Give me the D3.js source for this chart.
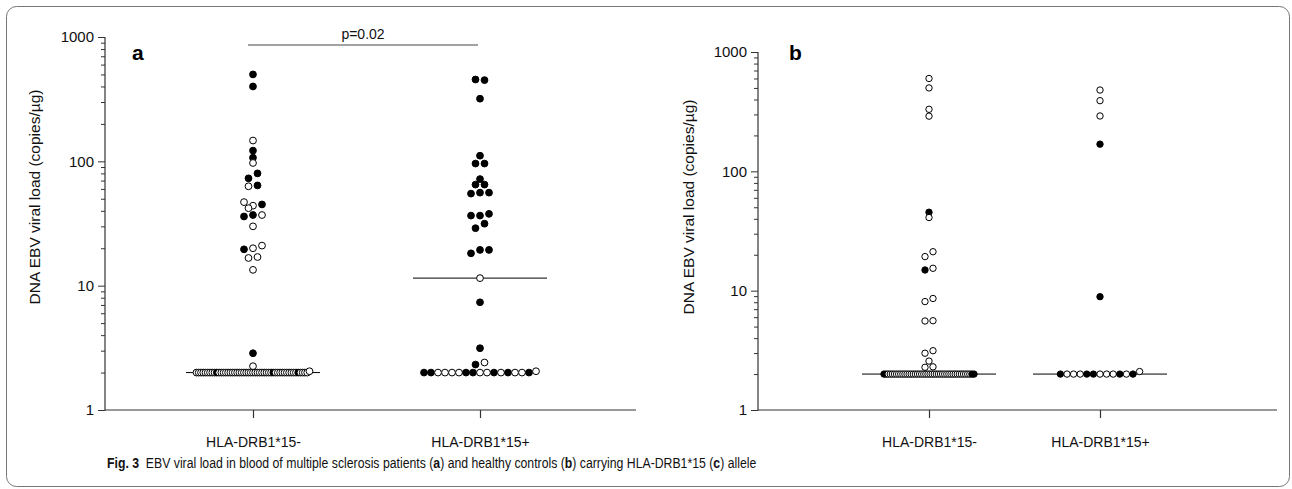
<!DOCTYPE html>
<html><head><meta charset="utf-8">
<script src="https://cdn.jsdelivr.net/npm/d3@7/dist/d3.min.js"></script>
<style>
body{margin:0;background:#fff}svg{display:block}
svg text{font-family:"Liberation Sans","Arimo",Arial,Helvetica,"Noto Sans",sans-serif;}
svg text.cap{font-family:"Liberation Sans Narrow","Arial Narrow","Liberation Sans",Arial,"Noto Sans",sans-serif;}
</style>
</head><body>
<svg id="chart" width="1292" height="489"></svg>
<script>
// ---------------- data ----------------
const categories = ["HLA-DRB1*15-", "HLA-DRB1*15+"];
const yTickValues = [1, 10, 100, 1000];
const yTickLabels = ["1", "10", "100", "1000"];
const yAxisTitle = "DNA EBV viral load (copies/µg)";
const panelLetters = ["a", "b"];
const pValueText = "p=0.02";

// Panel a (multiple sclerosis patients) – HLA-DRB1*15-
const aNegValues = [500, 400, 147, 122, 107, 97, 73, 80, 63, 64, 47, 44, 45, 42, 36, 37, 37, 30, 19.6, 20, 21, 16.7, 17, 13.4, 2.86, 2.25,
  2, 2, 2, 2, 2, 2, 2, 2, 2, 2, 2, 2, 2, 2, 2, 2, 2, 2, 2, 2, 2, 2, 2, 2, 2, 2, 2,
  2, 2, 2, 2, 2, 2, 2, 2, 2, 2, 2, 2, 2, 2, 2, 2, 2, 2, 2, 2, 2, 2, 2,
  2.05];
const aNegFilled = [1, 1, 0, 1, 1, 0, 1, 1, 0, 1, 0, 0, 1, 0, 1, 1, 0, 0, 1, 0, 0, 0, 0, 0, 1, 0,
  0, 0, 0, 0, 0, 0, 0, 0, 0, 1, 0, 0, 0, 0, 0, 0, 0, 0, 0, 0, 0, 0, 0, 0, 0, 0, 0,
  0, 0, 0, 0, 0, 0, 0, 1, 0, 0, 0, 0, 0, 0, 0, 0, 0, 0, 1, 0, 0, 0, 0,
  0];
// Panel a – HLA-DRB1*15+
const aPosValues = [455, 450, 319, 111, 96, 96, 72, 65, 65, 55, 56, 56, 36.6, 36.6, 37.8, 29, 31.5, 18.2, 19.4, 19.4, 11.5, 7.35, 3.14, 2.32, 2.41,
  2, 2, 2, 2, 2, 2, 2, 2, 2, 2, 2, 2, 2, 2, 2, 2,
  2.05];
const aPosFilled = [1, 1, 1, 1, 1, 1, 1, 1, 1, 1, 1, 1, 1, 1, 1, 1, 1, 1, 1, 1, 0, 1, 1, 1, 0,
  1, 1, 0, 0, 0, 0, 1, 1, 0, 0, 1, 0, 1, 0, 0, 1,
  0];
const aMedians = [2, 11.5];

// Panel b (healthy controls) – HLA-DRB1*15-
const bNegValues = [600, 500, 331, 290, 45.4, 41, 19.3, 21.2, 14.9, 15.4, 8.1, 8.6, 5.57, 5.6, 2.99, 3.14, 2.57, 2.28, 2.3,
  2, 2, 2, 2, 2, 2, 2, 2, 2, 2, 2, 2, 2, 2, 2, 2, 2, 2, 2, 2, 2, 2,
  2, 2, 2, 2, 2, 2, 2, 2, 2, 2, 2, 2, 2, 2, 2, 2, 2, 2, 2, 2, 2, 2];
const bNegFilled = [0, 0, 0, 0, 1, 0, 0, 0, 1, 0, 0, 0, 0, 0, 0, 0, 0, 0, 0,
  1, 1, 0, 0, 0, 0, 0, 0, 0, 0, 0, 0, 0, 0, 0, 0, 0, 0, 0, 0, 0, 0,
  0, 0, 0, 0, 0, 0, 0, 0, 0, 0, 0, 0, 0, 0, 0, 0, 0, 0, 0, 0, 1, 1];
// Panel b – HLA-DRB1*15+
const bPosValues = [480, 391, 291, 169, 8.9,
  2, 2, 2, 2, 2, 2, 2, 2, 2, 2, 2, 2,
  2.1];
const bPosFilled = [0, 0, 0, 1, 1,
  1, 0, 0, 0, 1, 1, 0, 0, 0, 1, 0, 1,
  0];
const bMedians = [2, 2];

const captionParts = [
  {t: "Fig. 3", b: true}, {t: "  EBV viral load in blood of multiple sclerosis patients (", b: false},
  {t: "a", b: true}, {t: ") and healthy controls (", b: false}, {t: "b", b: true},
  {t: ") carrying HLA-DRB1*15 (", b: false}, {t: "c", b: true}, {t: ") allele", b: false}
];

// ---------------- drawing ----------------
const svg = d3.select("#chart");
const AXIS = "#333";

// calibrate: expected Arial width of the category label at 14px is ~95px
const probe = svg.append("text").attr("font-size", 14).text(categories[0]);
const probeW = probe.node().getComputedTextLength();
probe.remove();
const widthRatio = Math.min(1, 95 / probeW);
function fit(sel) {
  if (widthRatio > 0.97) return;
  sel.each(function() {
    const w = this.getComputedTextLength();
    d3.select(this).attr("textLength", w * widthRatio).attr("lengthAdjust", "spacingAndGlyphs");
  });
}

svg.append("rect").attr("x", 6.5).attr("y", 6.5).attr("width", 1283).attr("height", 480)
  .attr("rx", 10).attr("fill", "none").attr("stroke", "#777").attr("stroke-width", 1);

function layout(values, filled, y, cx, opt) {
  const pts = values.map((v, i) => ({v, f: filled[i], i, y: y(v)}));
  const sorted = pts.slice().sort((a, b) => a.y - b.y || a.i - b.i);
  const bins = []; let cur = null;
  for (const p of sorted) {
    if (cur && p.y - cur[0].y < opt.binH) cur.push(p);
    else { cur = [p]; bins.push(cur); }
  }
  const placed = [];
  for (const bin of bins) {
    bin.sort((a, b) => a.i - b.i);
    const n = bin.length;
    const sp = n > 1 ? (n >= opt.rowMin ? Math.min(opt.rowSpacing, opt.rowMaxWidth / (n - 1)) : opt.spacing) : 0;
    const offs = bin.map((p, k) => (k - (n - 1) / 2) * sp);
    const shifts = [0];
    for (let s = 1; s <= 8; s++) shifts.push(-s * opt.spacing / 2, s * opt.spacing / 2);
    let shift = 0;
    for (const s of shifts) {
      const ok = bin.every((p, k) => placed.every(q => Math.hypot(q.dx - (offs[k] + s), q.y - p.y) >= opt.minDist));
      if (ok) { shift = s; break; }
    }
    bin.forEach((p, k) => { p.dx = offs[k] + shift; placed.push(p); });
  }
  return pts.map(p => ({...p, x: cx + p.dx}));
}

function panel(cfg) {
  const g = svg.append("g");
  const y = d3.scaleLog().domain([1, 1000]).range([cfg.yBottom, cfg.yTop]);
  const x = d3.scalePoint().domain(categories).range(cfg.catRange);

  const yAx = g.append("g").attr("transform", `translate(${cfg.xLeft},0)`)
    .call(d3.axisLeft(y).tickValues(yTickValues).tickSize(7).tickPadding(4)
      .tickFormat((d, i) => yTickLabels[i]));
  yAx.attr("font-family", null);
  yAx.select(".domain").remove();
  yAx.selectAll("line").attr("stroke", AXIS);
  yAx.selectAll("text").attr("font-size", 15).attr("fill", "#111").call(fit);
  const minors = y.ticks().filter(t => !yTickValues.includes(t));
  const yMin = g.append("g").attr("transform", `translate(${cfg.xLeft},0)`)
    .call(d3.axisLeft(y).tickValues(minors).tickSize(4).tickFormat(""));
  yMin.select(".domain").remove();
  yMin.selectAll("line").attr("stroke", AXIS);
  g.append("line").attr("x1", cfg.xLeft).attr("x2", cfg.xLeft).attr("y1", cfg.yTop).attr("y2", cfg.yBottom + 0.5)
    .attr("stroke", AXIS).attr("stroke-width", 1.2);
  g.append("line").attr("x1", cfg.xLeft).attr("x2", cfg.xRight).attr("y1", cfg.yBottom).attr("y2", cfg.yBottom)
    .attr("stroke", AXIS).attr("stroke-width", 1.2);
  const xAx = g.append("g").attr("transform", `translate(0,${cfg.yBottom})`)
    .call(d3.axisBottom(x).tickSize(8).tickPadding(19));
  xAx.attr("font-family", null);
  xAx.select(".domain").remove();
  xAx.selectAll("line").attr("stroke", AXIS).attr("stroke-width", 1.2);
  xAx.selectAll("text").attr("font-size", 14).attr("fill", "#111").call(fit);

  g.append("text").attr("transform", `translate(${cfg.titleX},${cfg.titleY}) rotate(-90)`)
    .attr("text-anchor", "middle").attr("dy", "0.35em")
    .attr("font-size", 15.5).attr("fill", "#111").text(yAxisTitle).call(fit);
  g.append("text").attr("x", cfg.letterX).attr("y", cfg.letterY)
    .attr("font-weight", "bold").attr("font-size", 21).attr("fill", "#000")
    .text(cfg.letter);

  g.selectAll(".med").data(cfg.medians).join("line")
    .attr("x1", (d, i) => x(categories[i]) - cfg.medHalf)
    .attr("x2", (d, i) => x(categories[i]) + cfg.medHalf)
    .attr("y1", d => y(d)).attr("y2", d => y(d))
    .attr("stroke", "#000").attr("stroke-width", 1);

  cfg.groups.forEach((grp, gi) => {
    const pts = layout(grp.values, grp.filled, y, x(categories[gi]), cfg.opt);
    g.append("g").selectAll("circle").data(pts).join("circle")
      .attr("cx", d => d.x).attr("cy", d => d.y).attr("r", cfg.opt.r)
      .attr("fill", d => d.f ? "#000" : "#fff")
      .attr("stroke", "#000").attr("stroke-width", 1);
  });
  return {x, y, g};
}

const pa = panel({
  xLeft: 105, xRight: 636, yTop: 37, yBottom: 410, catRange: [253, 480],
  titleX: 35, titleY: 197, letter: panelLetters[0], letterX: 132, letterY: 60,
  medians: aMedians, medHalf: 67,
  groups: [{values: aNegValues, filled: aNegFilled}, {values: aPosValues, filled: aPosFilled}],
  opt: {r: 3.4, spacing: 9, rowSpacing: 7, rowMaxWidth: 113, rowMin: 6, binH: 5, minDist: 5}
});
const pb = panel({
  xLeft: 758, xRight: 1277, yTop: 52, yBottom: 410, catRange: [929, 1100],
  titleX: 689, titleY: 207, letter: panelLetters[1], letterX: 789, letterY: 60,
  medians: bMedians, medHalf: 67,
  groups: [{values: bNegValues, filled: bNegFilled}, {values: bPosValues, filled: bPosFilled}],
  opt: {r: 3.2, spacing: 8, rowSpacing: 6.6, rowMaxWidth: 90, rowMin: 6, binH: 5, minDist: 5}
});

const sx1 = pa.x(categories[0]) - 5, sx2 = pa.x(categories[1]) - 2;
svg.append("line").attr("x1", sx1).attr("x2", sx2).attr("y1", 45).attr("y2", 45)
  .attr("stroke", "#444").attr("stroke-width", 1);
svg.append("text").attr("x", (sx1 + sx2) / 2).attr("y", 39).attr("text-anchor", "middle")
  .attr("font-size", 14).attr("fill", "#111").text(pValueText).call(fit);

const cap = svg.append("text").attr("class", "cap").attr("x", 107).attr("y", 468)
  .attr("font-size", 15).attr("fill", "#111").attr("xml:space", "preserve").style("white-space", "pre");
cap.selectAll("tspan").data(captionParts).join("tspan")
  .attr("font-weight", d => d.b ? "bold" : "normal").text(d => d.t);
const w = cap.node().getComputedTextLength();
const target = 757 - 107;
cap.attr("transform", `translate(107,0) scale(${target / w},1) translate(-107,0)`);
</script>
</body></html>
